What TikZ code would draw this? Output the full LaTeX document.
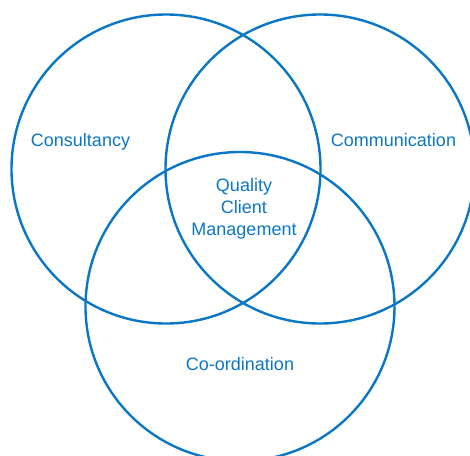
\documentclass[tikz,border=0pt]{standalone}
\usepackage{fontspec}
\setmainfont{Liberation Sans}
\definecolor{vblue}{HTML}{0A77C6}
\begin{document}
\begin{tikzpicture}[x=1pt,y=-1pt,
  ring/.style={draw=vblue,line width=2.4pt},
  lbl/.style={text=vblue,font=\fontsize{18}{22}\selectfont,anchor=base,inner sep=0pt}]
\useasboundingbox (0,0) rectangle (470,455);
\clip (0,0) rectangle (470,455);
\draw[ring] (166,169) circle[radius=154.5];
\draw[ring] (320,169) circle[radius=154.5];
\draw[ring] (240,306.5) circle[radius=154.5];
\node[lbl] (cons) at (80.5,146) {Consultancy};
\node[lbl] (comm) at (393.5,146) {Communication};
\node[lbl] (coord) at (240,370) {Co-ordination};
\node[lbl] (q1) at (244,191) {Quality};
\node[lbl] (q2) at (244,213) {Client};
\node[lbl] (q3) at (244,235) {Management};
\end{tikzpicture}
\end{document}
